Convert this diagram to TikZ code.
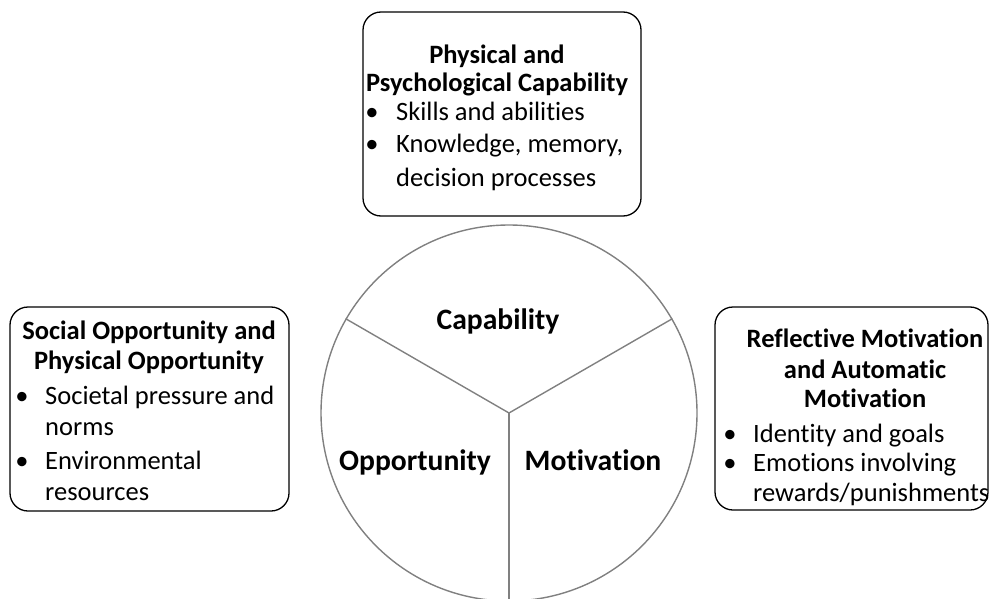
\documentclass[tikz,border=0pt]{standalone}
\usepackage{fontspec}
\setmainfont{Carlito}[Ligatures=NoCommon]
\begin{document}
\begin{tikzpicture}[x=1pt,y=-1pt,
  box/.style={draw=black,line width=1.3pt,rounded corners=18pt,inner sep=0pt},
  sector/.style={draw=black!50,line width=1.4pt},
  ttl/.style={anchor=base,inner sep=0pt,font=\fontsize{26.5}{30}\selectfont\bfseries},
  itm/.style={anchor=base west,inner sep=0pt,font=\fontsize{26.5}{30}\selectfont},
  bul/.style={anchor=base,inner sep=0pt,font=\fontsize{26.5}{30}\selectfont},
  big/.style={anchor=base,inner sep=0pt,font=\fontsize{29.6}{34}\selectfont\bfseries}]
\useasboundingbox (0,0) rectangle (998,599);
% circle
\node[circle,draw=black!50,line width=1.4pt,minimum size=376pt,inner sep=0pt] (c) at (509,413) {};
\coordinate (o) at (509,413);
\draw[sector] (o) -- (c.150);
\draw[sector] (o) -- (c.30);
\draw[sector] (o) -- (c.270);
\node[big] (cap) at (498,329) {Capability};
\node[big] (opp) at (415,470) {Opportunity};
\node[big] (mot) at (593,470) {Motivation};
% top box
\node[box,minimum width=278pt,minimum height=204pt] (tb) at (502,114) {};
\node[ttl] (t1) at (497,64) {Physical and};
\node[ttl] (t2) at (497,92) {Psychological Capability};
\node[bul] (tb1) at (372,121) {\textbullet};
\node[itm] (ti1) at (396,121) {Skills and abilities};
\node[bul] (tb2) at (372,152) {\textbullet};
\node[itm] (ti2) at (396,152) {Knowledge, memory,};
\node[itm] (ti3) at (396,186) {decision processes};
% left box
\node[box,minimum width=279pt,minimum height=204pt] (lb) at (149.5,409) {};
\node[ttl] (l1) at (149,339) {Social Opportunity and};
\node[ttl] (l2) at (149,369) {Physical Opportunity};
\node[bul] (lb1) at (22,404) {\textbullet};
\node[itm] (li1) at (45,404) {Societal pressure and};
\node[itm] (li2) at (45,435) {norms};
\node[bul] (lb2) at (22,469) {\textbullet};
\node[itm] (li3) at (45,469) {Environmental};
\node[itm] (li4) at (45,500) {resources};
% right box
\node[box,minimum width=273pt,minimum height=203pt] (rb) at (851.5,408.5) {};
\node[ttl] (r1) at (865,347) {Reflective Motivation};
\node[ttl] (r2) at (865,378) {and Automatic};
\node[ttl] (r3) at (865,407) {Motivation};
\node[bul] (rb1) at (730,442) {\textbullet};
\node[itm] (ri1) at (753,442) {Identity and goals};
\node[bul] (rb2) at (730,471) {\textbullet};
\node[itm] (ri2) at (753,471) {Emotions involving};
\node[itm] (ri3) at (753,501) {rewards/punishments};
\end{tikzpicture}
\end{document}
